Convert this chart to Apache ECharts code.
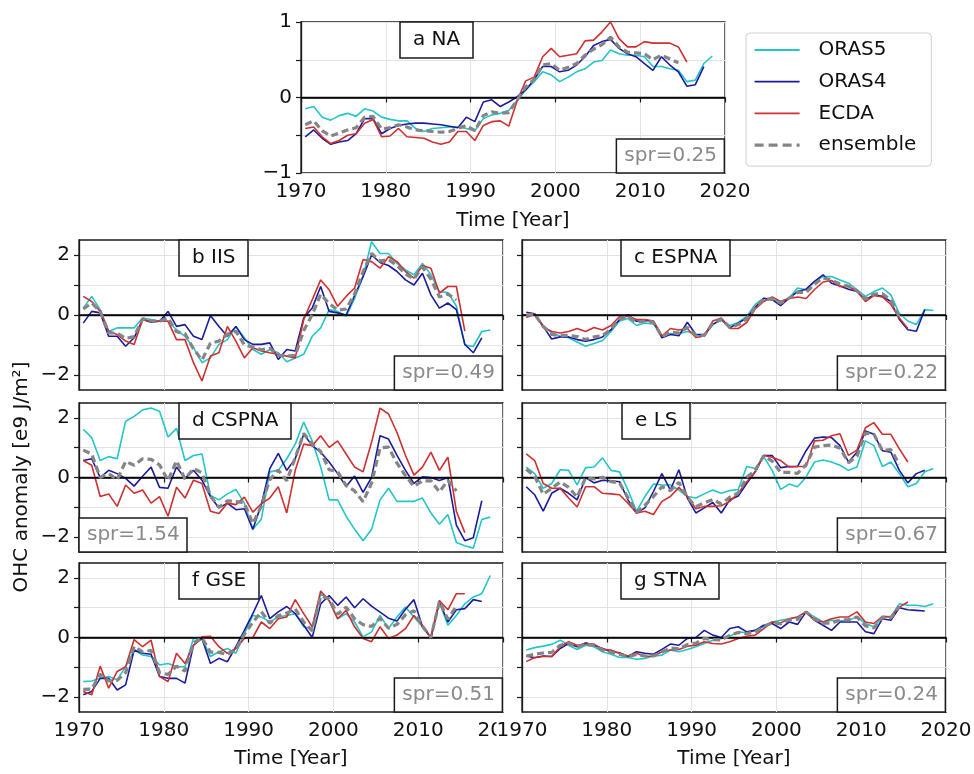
<!DOCTYPE html>
<html><head><meta charset="utf-8">
<script src="https://cdn.jsdelivr.net/npm/echarts@6/dist/echarts.min.js"></script>
<style>html,body{margin:0;padding:0;background:#fff}#c{width:974px;height:774px}</style>
</head><body><div id="c"></div>
<script>
const startYear = 1970;
const seriesNames = ['ORAS5', 'ORAS4', 'ECDA', 'ensemble'];
const panelLabels = ['a NA', 'b IIS', 'c ESPNA', 'd CSPNA', 'e LS', 'f GSE', 'g STNA'];
const sprLabels = ['spr=0.25', 'spr=0.49', 'spr=0.22', 'spr=1.54', 'spr=0.67', 'spr=0.51', 'spr=0.24'];
const yLabelsA = [-1, 0, 1];
const yLabels = [-2, 0, 2];
const xTitle = 'Time [Year]';
const yTitle = 'OHC anomaly [e9 J/m\u00b2]';

// a NA
const a_oras5 = [-0.15,-0.12,-0.26,-0.30,-0.24,-0.21,-0.25,-0.15,-0.18,-0.26,
  -0.29,-0.31,-0.31,-0.41,-0.45,-0.41,-0.40,-0.39,-0.39,-0.41,
  -0.44,-0.28,-0.23,-0.21,-0.17,-0.04,0.10,0.21,0.34,0.30,
  0.21,0.27,0.34,0.38,0.47,0.49,0.63,0.58,0.56,0.56,
  0.54,0.41,0.41,0.38,0.36,0.21,0.23,0.45,0.55];
const a_oras4 = [-0.52,-0.43,-0.54,-0.62,-0.59,-0.57,-0.48,-0.28,-0.28,-0.48,
  -0.41,-0.37,-0.35,-0.34,-0.34,-0.35,-0.36,-0.38,-0.40,-0.26,
  -0.32,-0.06,-0.03,-0.12,-0.06,0.01,0.10,0.24,0.41,0.41,
  0.34,0.36,0.43,0.54,0.69,0.74,0.77,0.65,0.58,0.54,
  0.45,0.36,0.54,0.43,0.34,0.15,0.17,0.41];
const a_ecda = [-0.41,-0.39,-0.52,-0.61,-0.57,-0.50,-0.48,-0.34,-0.29,-0.52,
  -0.51,-0.41,-0.52,-0.53,-0.54,-0.59,-0.62,-0.59,-0.45,-0.45,
  -0.57,-0.37,-0.32,-0.31,-0.38,-0.04,0.22,0.27,0.54,0.65,
  0.54,0.56,0.58,0.75,0.76,0.87,1.00,0.78,0.67,0.67,
  0.74,0.72,0.72,0.72,0.67,0.47];
const a_ens = [-0.36,-0.31,-0.44,-0.51,-0.47,-0.43,-0.40,-0.26,-0.25,-0.42,
  -0.40,-0.36,-0.39,-0.43,-0.44,-0.45,-0.46,-0.45,-0.41,-0.37,
  -0.44,-0.24,-0.19,-0.21,-0.20,-0.03,0.14,0.24,0.43,0.45,
  0.36,0.40,0.45,0.56,0.64,0.70,0.80,0.67,0.60,0.59,
  0.58,0.50,0.56,0.51,0.46];

// b IIS
const b_oras5 = [0.23,0.62,0.18,-0.54,-0.43,-0.43,-0.43,-0.10,-0.15,-0.21,
  -0.21,-0.49,-0.71,-1.09,-1.59,-1.43,-0.98,-0.82,-0.38,-0.76,
  -1.15,-1.31,-1.15,-1.26,-1.56,-1.43,-1.31,-0.71,-0.43,0.18,
  0.12,-0.05,0.55,1.30,2.44,2.05,2.05,1.72,1.50,1.34,
  1.72,1.35,0.78,0.75,0.30,-1.00,-1.05,-0.55,-0.50];
const b_oras4 = [-0.27,0.12,0.07,-0.71,-0.71,-1.04,-0.76,-0.15,-0.24,-0.21,
  0.12,-0.38,-0.32,-0.71,-0.82,-0.02,-0.38,-0.71,-0.38,-0.82,
  -0.98,-0.98,-0.93,-1.48,-1.15,-1.20,-0.10,0.23,0.95,0.12,
  0.07,0.00,0.65,1.28,2.00,1.75,1.65,1.45,1.17,1.00,
  1.39,0.67,0.23,0.40,0.18,-0.98,-1.26,-0.76];
const b_ecda = [0.62,0.45,0.12,-0.54,-0.65,-0.87,-0.98,-0.15,-0.21,-0.21,
  -0.21,-0.82,-0.82,-1.59,-2.20,-1.37,-1.26,-0.38,-0.87,-1.43,
  -1.09,-1.20,-1.26,-1.31,-1.37,-1.43,-0.15,0.51,1.17,0.84,
  0.29,0.62,0.90,1.85,1.78,1.56,1.94,1.78,1.45,1.23,
  1.65,1.56,0.73,0.95,0.95,-0.54];
const b_ens = [0.20,0.40,0.12,-0.60,-0.60,-0.78,-0.72,-0.13,-0.20,-0.21,
  -0.10,-0.56,-0.62,-1.13,-1.50,-0.94,-0.87,-0.64,-0.54,-1.00,
  -1.07,-1.16,-1.11,-1.35,-1.36,-1.35,-0.52,0.01,0.69,0.38,
  0.16,0.20,0.70,1.45,2.05,1.80,1.85,1.65,1.37,1.20,
  1.60,1.20,0.60,0.70,0.50];

// c ESPNA
const c_oras5 = [0.00,0.00,-0.35,-0.60,-0.70,-0.76,-0.90,-1.04,-0.95,-0.85,
  -0.55,-0.20,-0.12,-0.35,-0.27,-0.30,-0.70,-0.62,-0.62,-0.55,
  -0.65,-0.70,-0.30,-0.18,-0.35,-0.25,-0.05,0.35,0.56,0.50,
  0.45,0.56,0.90,0.84,1.12,1.28,1.28,1.17,1.06,0.84,
  0.62,0.78,0.90,0.67,0.05,-0.20,-0.32,0.18,0.15];
const c_oras4 = [0.09,0.04,-0.38,-0.80,-0.73,-0.73,-0.82,-0.87,-0.82,-0.73,
  -0.49,-0.15,0.01,-0.21,-0.18,-0.21,-0.76,-0.65,-0.69,-0.24,
  -0.65,-0.65,-0.32,-0.13,-0.43,-0.27,-0.10,0.26,0.56,0.51,
  0.31,0.56,0.78,0.86,1.12,1.34,1.06,0.97,0.86,0.78,
  0.51,0.67,0.62,0.45,-0.15,-0.49,-0.54,0.18];
const c_ecda = [-0.08,0.03,-0.40,-0.55,-0.60,-0.55,-0.45,-0.55,-0.42,-0.50,
  -0.35,-0.05,-0.05,-0.15,-0.15,-0.20,-0.70,-0.45,-0.50,-0.45,
  -0.75,-0.70,-0.20,-0.10,-0.45,-0.45,-0.25,0.20,0.45,0.60,
  0.45,0.55,0.60,0.55,0.85,1.10,1.15,0.95,0.95,0.80,
  0.45,0.65,0.60,0.35,-0.10,-0.45];
const c_ens = [0.00,0.02,-0.38,-0.65,-0.68,-0.68,-0.72,-0.82,-0.73,-0.69,
  -0.46,-0.13,-0.05,-0.24,-0.20,-0.24,-0.72,-0.57,-0.60,-0.41,
  -0.68,-0.68,-0.27,-0.14,-0.41,-0.32,-0.13,0.27,0.52,0.54,
  0.40,0.56,0.76,0.75,1.03,1.24,1.16,1.03,0.96,0.81,
  0.53,0.70,0.71,0.49,-0.07];

// d CSPNA
const d_oras5 = [1.62,1.34,0.57,0.70,0.63,1.89,2.05,2.27,2.33,2.22,
  1.36,1.65,0.57,0.74,0.79,-0.60,-0.75,-0.55,-0.40,-0.86,
  -1.74,-1.40,0.19,0.24,0.63,1.12,1.86,1.23,0.35,-0.75,
  -0.75,-1.30,-1.74,-2.12,-1.74,-0.75,-0.36,-0.80,-0.80,-0.80,
  -0.69,-1.19,-1.57,-1.24,-2.18,-2.29,-2.37,-1.41,-1.33];
const d_oras4 = [0.57,0.63,0.00,0.24,0.13,-0.03,-0.29,0.04,0.35,-0.33,
  -0.36,0.35,-0.03,0.24,-0.09,-0.64,-1.02,-0.86,-1.08,-1.05,
  -1.74,-0.91,0.30,0.81,0.24,0.63,1.45,1.07,0.85,0.52,
  0.13,-0.30,0.05,-0.50,0.00,1.40,1.29,0.74,0.24,-0.20,
  0.02,0.00,-0.10,0.00,-1.60,-2.12,-2.02,-0.78];
const d_ecda = [0.57,0.41,-0.64,-0.55,-0.97,-0.25,-0.53,-0.42,-0.86,-0.64,
  -1.30,-0.33,-0.69,-0.09,-0.20,-1.13,-1.21,-0.86,-0.91,-0.66,
  -1.16,-0.88,-0.69,-0.31,-1.19,0.24,1.12,1.07,1.40,1.01,
  1.23,0.79,0.35,0.19,1.18,2.33,2.13,1.51,0.74,0.08,
  0.35,0.85,0.24,0.68,-1.13,-1.85];
const d_ens = [0.92,0.79,0.00,0.13,-0.07,0.54,0.41,0.63,0.61,0.42,
  -0.10,0.56,-0.05,0.30,0.16,-0.62,-1.00,-0.78,-0.80,-0.86,
  -1.55,-0.96,-0.07,0.25,-0.11,0.66,1.48,1.12,0.87,0.26,
  0.20,-0.27,-0.45,-0.81,-0.19,0.99,1.02,0.48,0.06,-0.30,
  -0.11,-0.11,-0.48,-0.10,-0.45];

// e LS
const e_oras5 = [0.35,0.13,-0.36,-0.20,0.26,0.24,-0.25,0.33,0.35,0.66,
  0.24,0.19,-0.42,-1.13,-0.64,-0.22,-0.25,-0.25,-0.42,-0.64,
  -0.69,-0.55,-0.42,-0.53,-0.44,-0.40,0.37,0.30,0.70,0.24,
  -0.40,-0.22,-0.31,0.02,0.52,0.59,0.52,0.41,0.24,0.35,
  1.23,1.07,0.37,0.52,0.13,-0.31,-0.20,0.19,0.30];
const e_oras4 = [-0.31,-0.58,-1.13,-0.53,-0.36,-0.53,-0.75,0.00,-0.18,-0.09,
  -0.11,-0.14,-0.75,-1.19,-1.02,-0.47,0.13,-0.42,0.26,-0.69,
  -1.19,-1.02,-0.84,-1.19,-0.75,-0.62,-0.20,0.19,0.74,0.74,
  0.33,0.37,0.37,0.90,1.32,1.36,1.34,1.07,0.52,0.85,
  1.56,1.45,0.90,0.85,0.24,-0.18,0.13,0.24];
const e_ecda = [0.79,0.57,-0.20,-0.36,-0.36,-0.69,-0.99,-0.31,-0.31,-0.53,
  -0.55,-0.58,-0.86,-1.19,-1.13,-1.24,-0.80,-0.64,-0.33,-0.64,
  -1.05,-0.97,-0.97,-0.95,-0.80,-0.53,-0.14,0.19,0.74,0.68,
  0.57,0.35,0.37,0.37,1.23,1.25,1.40,1.47,0.74,0.92,
  1.67,1.84,1.45,1.45,0.96,0.52];
const e_ens = [0.28,0.04,-0.56,-0.36,-0.15,-0.33,-0.66,0.00,-0.05,0.01,
  -0.14,-0.18,-0.68,-1.17,-0.93,-0.64,-0.31,-0.44,-0.16,-0.66,
  -0.98,-0.85,-0.74,-0.89,-0.66,-0.52,0.01,0.23,0.73,0.55,
  0.17,0.17,0.14,0.43,1.02,1.07,1.09,0.98,0.50,0.71,
  1.49,1.45,0.91,0.94,0.44];

// f GSE
const f_oras5 = [-1.48,-1.46,-1.37,-1.31,-1.42,-0.98,-0.42,-0.59,-0.64,-0.92,
  -0.87,-0.98,-0.98,-0.03,-0.03,-0.64,-0.48,-0.37,-0.53,0.13,
  0.74,0.69,0.52,0.69,0.74,0.80,0.36,0.30,1.47,1.24,
  0.63,0.80,0.52,0.02,0.19,0.74,0.30,0.69,1.02,0.69,
  0.36,0.00,1.19,0.41,0.74,1.13,1.36,1.47,2.08];
const f_oras4 = [-1.92,-1.81,-1.37,-1.37,-1.76,-1.59,-0.42,-0.53,-0.56,-1.31,
  -1.37,-1.37,-1.53,-0.26,-0.03,-0.87,-0.70,-0.81,-0.31,0.24,
  0.80,1.41,0.63,0.86,1.04,0.80,0.41,0.00,1.13,1.41,
  1.08,1.36,1.00,1.30,1.05,0.85,0.65,0.55,0.95,1.27,
  0.36,0.00,1.19,0.52,0.93,0.97,1.27,1.21];
const f_ecda = [-1.81,-1.92,-0.96,-1.70,-1.14,-0.98,-0.07,-0.31,-0.09,-1.31,
  -1.48,-0.53,-0.87,-0.26,0.02,0.04,-0.31,-0.53,-0.37,-0.03,
  0.00,0.52,0.30,0.63,0.69,1.27,0.80,0.36,1.56,1.24,
  0.63,0.91,0.36,-0.03,-0.14,0.36,-0.03,0.08,0.30,0.74,
  0.41,0.00,1.24,0.93,1.47,1.47];
const f_ens = [-1.74,-1.73,-1.23,-1.46,-1.44,-1.18,-0.30,-0.48,-0.43,-1.18,
  -1.24,-0.96,-1.13,-0.18,-0.01,-0.49,-0.50,-0.57,-0.40,0.11,
  0.51,0.87,0.48,0.73,0.82,0.96,0.52,0.22,1.39,1.30,
  0.78,1.02,0.63,0.43,0.37,0.65,0.31,0.44,0.76,0.90,
  0.38,0.00,1.21,0.62,1.05];

// g STNA
const g_oras5 = [-0.42,-0.34,-0.29,-0.23,-0.09,-0.26,-0.40,-0.26,-0.31,-0.48,
  -0.56,-0.67,-0.67,-0.73,-0.70,-0.62,-0.59,-0.42,-0.48,-0.40,
  -0.31,-0.20,-0.09,-0.03,0.04,0.19,0.16,0.24,0.36,0.52,
  0.58,0.63,0.69,0.86,0.69,0.52,0.58,0.56,0.58,0.69,
  0.47,0.36,0.69,0.71,1.13,1.08,1.08,1.04,1.13];
const g_oras4 = [-0.62,-0.68,-0.62,-0.64,-0.37,-0.20,-0.31,-0.18,-0.26,-0.37,
  -0.48,-0.51,-0.64,-0.48,-0.53,-0.56,-0.40,-0.22,-0.26,-0.03,
  0.00,0.24,0.08,0.00,0.30,0.36,0.19,0.24,0.41,0.47,
  0.30,0.52,0.44,0.86,0.58,0.41,0.24,0.52,0.52,0.52,
  0.19,0.13,0.63,0.58,1.00,0.93,0.91,0.89];
const g_ecda = [-0.81,-0.67,-0.64,-0.64,-0.31,-0.14,-0.26,-0.22,-0.22,-0.40,
  -0.42,-0.53,-0.62,-0.53,-0.64,-0.62,-0.48,-0.42,-0.40,-0.29,
  -0.26,-0.14,-0.20,-0.22,-0.14,-0.03,0.04,0.08,0.30,0.52,
  0.49,0.63,0.69,0.86,0.58,0.52,0.63,0.69,0.69,0.86,
  0.52,0.47,0.71,0.69,1.02,1.19];
const g_ens = [-0.62,-0.56,-0.52,-0.50,-0.26,-0.20,-0.32,-0.22,-0.26,-0.42,
  -0.49,-0.57,-0.64,-0.57,-0.62,-0.62,-0.49,-0.35,-0.38,-0.24,
  -0.19,-0.03,-0.07,-0.08,0.07,0.17,0.13,0.19,0.36,0.50,
  0.46,0.59,0.61,0.86,0.62,0.48,0.48,0.59,0.60,0.69,
  0.39,0.32,0.68,0.66,1.05];

const panelData = [
  [a_oras5, a_oras4, a_ecda, a_ens],
  [b_oras5, b_oras4, b_ecda, b_ens],
  [c_oras5, c_oras4, c_ecda, c_ens],
  [d_oras5, d_oras4, d_ecda, d_ens],
  [e_oras5, e_oras4, e_ecda, e_ens],
  [f_oras5, f_oras4, f_ecda, f_ens],
  [g_oras5, g_oras4, g_ecda, g_ens]
];

// ---- styling / layout ----
const FONT = "'DejaVu Sans', sans-serif";
const TXT = '#111';
const colors = ['#22c5c8', '#1b1b9e', '#cf2f2f', '#858585'];
const widths = [1.6, 1.6, 1.6, 3.2];
const grids = [
  {left: 301, top: 22, width: 424, height: 151},
  {left: 79, top: 240, width: 424, height: 150},
  {left: 522, top: 240, width: 424, height: 150},
  {left: 79, top: 403, width: 424, height: 149},
  {left: 522, top: 403, width: 424, height: 149},
  {left: 79, top: 563, width: 424, height: 149},
  {left: 522, top: 563, width: 424, height: 149}
];
const labelPos = [
  {left: 400, top: 22}, {left: 179, top: 240}, {left: 621, top: 240},
  {left: 179, top: 403}, {left: 622, top: 403}, {left: 179, top: 563}, {left: 621, top: 563}
];
const sprPos = [
  {right: 249, bottom: 601}, {right: 471, bottom: 384}, {right: 28, bottom: 384},
  {left: 79, bottom: 222}, {right: 28, bottom: 222}, {right: 471, bottom: 62}, {right: 28, bottom: 62}
];
const showXLabels = [true, false, false, false, false, true, true];
const showYLabels = [true, true, false, true, false, true, false];

const fmt = v => (v < 0 ? '\u2212' + Math.abs(v) : String(v));

const gridOpts = grids.map(g => Object.assign({}, g, {
  show: true, borderColor: '#1a1a1a', borderWidth: 1.3, backgroundColor: 'transparent',
  containLabel: false, outerBoundsMode: 'none'
}));

const xAxes = grids.map((g, i) => ({
  type: 'value', gridIndex: i, min: 1970, max: 2020, interval: 10,
  axisLine: {show: true, lineStyle: {color: '#1a1a1a', width: 1.3}},
  axisTick: {show: true, inside: false, length: 5, lineStyle: {color: '#1a1a1a', width: 1.2}},
  axisLabel: {
    show: showXLabels[i], margin: 9, fontSize: 20, fontFamily: FONT, color: TXT,
    formatter: v => String(v), showMinLabel: true, showMaxLabel: true,
    backgroundColor: i === 6 ? '#fff' : 'transparent'
  },
  splitLine: {show: true, lineStyle: {color: '#e3e3e3', width: 1}},
  name: showXLabels[i] ? xTitle : '', nameLocation: 'middle', nameGap: i === 0 ? 38 : 37,
  nameTextStyle: {fontSize: 20, fontFamily: FONT, color: TXT}
}));

const yAxes = grids.map((g, i) => {
  const isA = i === 0;
  const lbls = isA ? yLabelsA : yLabels;
  const ax = {
    type: 'value', gridIndex: i,
    min: isA ? -1 : -2.5, max: isA ? 1 : 2.5,
    axisLine: {show: true, lineStyle: {color: '#1a1a1a', width: 1.3}},
    axisTick: {show: true, inside: false, length: 5, lineStyle: {color: '#1a1a1a', width: 1.2}},
    axisLabel: {
      show: showYLabels[i], margin: 9, fontSize: 20, fontFamily: FONT, color: TXT,
      formatter: v => (lbls.indexOf(v) >= 0 ? fmt(v) : '')
    },
    splitLine: {show: true, lineStyle: {color: '#e3e3e3', width: 1}}
  };
  if (isA) ax.interval = 0.5; else ax.splitNumber = 5;
  if (!isA) ax.axisTick.customValues = [-2, -1, 0, 1, 2];
  return ax;
});

const series = [];
panelData.forEach((arrs, p) => {
  arrs.forEach((vals, k) => {
    const s = {
      type: 'line', name: seriesNames[k], xAxisIndex: p, yAxisIndex: p,
      data: vals.map((v, i) => [startYear + i + 0.5, v]),
      symbol: 'none', showSymbol: false, smooth: false, clip: true, silent: true,
      lineStyle: {color: colors[k], width: widths[k], type: k === 3 ? [7, 4] : 'solid'},
      itemStyle: {color: colors[k]},
      z: 2 + k
    };
    if (k === 0) {
      s.markLine = {
        silent: true, symbol: ['none', 'none'], label: {show: false},
        lineStyle: {color: '#000', width: 1.5, type: 'solid'},
        data: [{yAxis: 0}], animation: false
      };
    }
    series.push(s);
  });
});

const titles = [];
panelLabels.forEach((t, i) => {
  titles.push(Object.assign({
    text: t, padding: [8, 13], borderColor: '#1a1a1a', borderWidth: 1.5, backgroundColor: '#fff',
    textStyle: {fontSize: 20, fontWeight: 'normal', fontFamily: FONT, color: TXT}
  }, labelPos[i]));
});
sprLabels.forEach((t, i) => {
  titles.push(Object.assign({
    text: t, padding: [7, 8], borderColor: '#1a1a1a', borderWidth: 1.5, backgroundColor: '#fff',
    textStyle: {fontSize: 20, fontWeight: 'normal', fontFamily: FONT, color: '#8a8a8a'}
  }, sprPos[i]));
});

const legendData = seriesNames.map((n, k) => ({
  name: n,
  lineStyle: {width: k === 3 ? 3.2 : 1.8, type: k === 3 ? [9, 5] : 'solid', color: colors[k]}
}));

const chart = echarts.init(document.getElementById('c'), null, {renderer: 'canvas'});
chart.setOption({
  animation: false,
  backgroundColor: '#fff',
  textStyle: {fontFamily: FONT},
  grid: gridOpts,
  xAxis: xAxes,
  yAxis: yAxes,
  title: titles,
  legend: {
    data: legendData, orient: 'vertical', left: 746, top: 33,
    itemWidth: 45, itemHeight: 14, itemGap: 9.7, selectedMode: false,
    itemStyle: {opacity: 0, color: 'transparent', borderWidth: 0},
    textStyle: {fontSize: 20, fontFamily: FONT, color: TXT, lineHeight: 22, padding: [0, 0, 0, 14]},
    borderColor: '#d0d0d0', borderWidth: 1, borderRadius: 4, padding: [6, 15, 10, 7],
    backgroundColor: '#fff'
  },
  graphic: [{
    type: 'text', x: 22, y: 477, rotation: Math.PI / 2, silent: true,
    style: {
      text: yTitle, fontSize: 20, fontFamily: FONT, fill: TXT,
      align: 'center', verticalAlign: 'middle', textAlign: 'center', textVerticalAlign: 'middle'
    }
  }],
  series: series
});
</script>
</body></html>
